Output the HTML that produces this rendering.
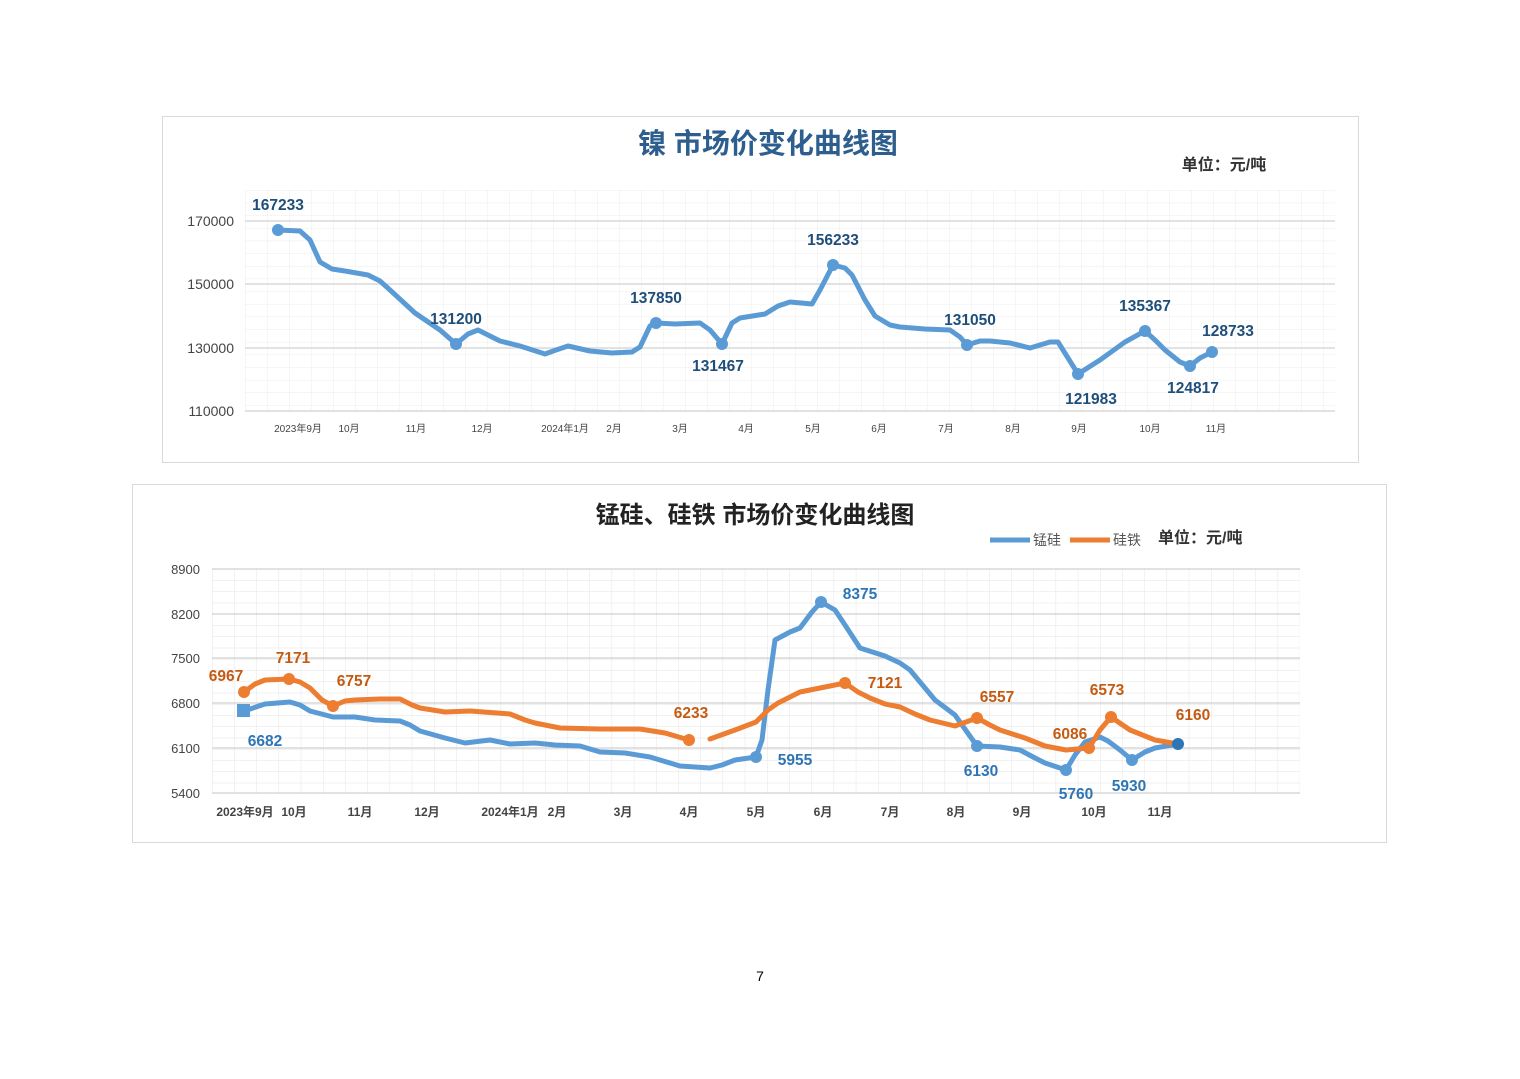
<!DOCTYPE html>
<html><head><meta charset="utf-8"><style>
body{margin:0;background:#fff;width:1520px;height:1074px;overflow:hidden}
text{font-family:"Liberation Sans","Noto Sans CJK SC",sans-serif}
.dl{font-family:"DejaVu Sans","Noto Sans CJK SC",sans-serif}
</style></head><body>
<svg width="1520" height="1074" xmlns="http://www.w3.org/2000/svg">
<defs>
<pattern id="g1" x="245" y="190" width="22" height="12.66" patternUnits="userSpaceOnUse">
<path d="M0 0V12.66M0 0H22" stroke="#ececec" stroke-width="1" fill="none"/></pattern>
<pattern id="g2" x="212" y="569" width="22.2" height="11.25" patternUnits="userSpaceOnUse">
<path d="M0 0V11.25M0 0H22.2" stroke="#e4e4e4" stroke-width="1" fill="none"/></pattern>
</defs>
<rect x="162.5" y="116.5" width="1196" height="346" fill="#fff" stroke="#d9d9d9"/>
<text x="768" y="153" font-size="28" font-weight="bold" fill="#2e5e8e" text-anchor="middle">镍  市场价变化曲线图</text>
<text x="1224" y="170" font-size="16" font-weight="bold" fill="#333" text-anchor="middle">单位：元/吨</text>
<rect x="245" y="190" width="1090" height="221" fill="url(#g1)"/>
<g stroke="#d9d9d9" stroke-width="1.5"><line x1="245" x2="1335" y1="221" y2="221"/><line x1="245" x2="1335" y1="284" y2="284"/><line x1="245" x2="1335" y1="348" y2="348"/><line x1="245" x2="1335" y1="411" y2="411"/></g>
<g font-size="14" fill="#444" text-anchor="end"><text x="234" y="226">170000</text><text x="234" y="289">150000</text><text x="234" y="353">130000</text><text x="234" y="416">110000</text></g>
<g font-size="10" fill="#444" text-anchor="middle"><text x="298" y="432">2023年9月</text><text x="349" y="432">10月</text><text x="416" y="432">11月</text><text x="482" y="432">12月</text><text x="565" y="432">2024年1月</text><text x="614" y="432">2月</text><text x="680" y="432">3月</text><text x="746" y="432">4月</text><text x="813" y="432">5月</text><text x="879" y="432">6月</text><text x="946" y="432">7月</text><text x="1013" y="432">8月</text><text x="1079" y="432">9月</text><text x="1150" y="432">10月</text><text x="1216" y="432">11月</text></g>
<polyline fill="none" stroke="#5b9bd5" stroke-width="5" stroke-linejoin="round" stroke-linecap="round" points="278,230 300,231 310,240 320,262 332,269 345,271 368,275 380,281 390,290 415,313 440,330 456,344 468,334 478,330 490,336 500,341 520,346 545,354 556,350 568,346 590,351 612,353 632,352 640,347 650,326 656,323 675,324 700,323 710,330 722,344 732,323 740,318 765,314 778,306 790,302 812,304 820,290 833,265 845,268 852,275 865,300 875,316 890,325 900,327 925,329 950,330 960,337 967,345 980,341 990,341 1010,343 1030,348 1050,342 1058,342 1068,358 1078,374 1100,360 1125,342 1145,331 1155,340 1165,350 1180,362 1190,366 1200,358 1212,352"/>
<g fill="#5b9bd5"><circle cx="278" cy="230" r="6"/><circle cx="456" cy="344" r="6"/><circle cx="656" cy="323" r="6"/><circle cx="722" cy="344" r="6"/><circle cx="833" cy="265" r="6"/><circle cx="967" cy="345" r="6"/><circle cx="1078" cy="374" r="6"/><circle cx="1145" cy="331" r="6"/><circle cx="1190" cy="366" r="6"/><circle cx="1212" cy="352" r="6"/></g>
<g class="dl" font-size="15.5" font-weight="bold" fill="#1f4e79" text-anchor="middle"><text x="278" y="210">167233</text><text x="456" y="324">131200</text><text x="656" y="303">137850</text><text x="718" y="371">131467</text><text x="833" y="245">156233</text><text x="970" y="325">131050</text><text x="1091" y="404">121983</text><text x="1145" y="311">135367</text><text x="1193" y="393">124817</text><text x="1228" y="336">128733</text></g>
<rect x="132.5" y="484.5" width="1254" height="358" fill="#fff" stroke="#d9d9d9"/>
<text x="755" y="523" font-size="24" font-weight="bold" fill="#222" text-anchor="middle">锰硅、硅铁  市场价变化曲线图</text>
<line x1="990" x2="1030" y1="540" y2="540" stroke="#5b9bd5" stroke-width="5"/><text x="1033" y="545" font-size="14" fill="#555">锰硅</text>
<line x1="1070" x2="1110" y1="540" y2="540" stroke="#ed7d31" stroke-width="5"/><text x="1113" y="545" font-size="14" fill="#555">硅铁</text>
<text x="1158" y="543" font-size="16" font-weight="bold" fill="#333">单位：元/吨</text>
<rect x="212" y="569" width="1088" height="225" fill="url(#g2)"/>
<g stroke="#d0d0d0" stroke-width="1.3"><line x1="212" x2="1300" y1="569" y2="569"/><line x1="212" x2="1300" y1="614" y2="614"/><line x1="212" x2="1300" y1="658" y2="658"/><line x1="212" x2="1300" y1="703" y2="703"/><line x1="212" x2="1300" y1="748" y2="748"/><line x1="212" x2="1300" y1="793" y2="793"/></g>
<g font-size="13" fill="#444" text-anchor="end"><text x="200" y="574">8900</text><text x="200" y="619">8200</text><text x="200" y="663">7500</text><text x="200" y="708">6800</text><text x="200" y="753">6100</text><text x="200" y="798">5400</text></g>
<g font-size="12" font-weight="bold" fill="#444" text-anchor="middle"><text x="245" y="816">2023年9月</text><text x="294" y="816">10月</text><text x="360" y="816">11月</text><text x="427" y="816">12月</text><text x="510" y="816">2024年1月</text><text x="557" y="816">2月</text><text x="623" y="816">3月</text><text x="689" y="816">4月</text><text x="756" y="816">5月</text><text x="823" y="816">6月</text><text x="890" y="816">7月</text><text x="956" y="816">8月</text><text x="1022" y="816">9月</text><text x="1094" y="816">10月</text><text x="1160" y="816">11月</text></g>
<polyline fill="none" stroke="#5b9bd5" stroke-width="5" stroke-linejoin="round" stroke-linecap="round" points="244,711 265,704 290,702 300,705 310,711 333,717 355,717 375,720 400,721 410,725 420,731 445,738 465,743 490,740 510,744 535,743 555,745 580,746 600,752 625,753 650,757 680,766 710,768 722,765 735,760 756,757 762,740 768,690 775,640 790,632 800,628 812,612 821,602 835,610 845,625 860,648 885,656 900,663 910,670 925,688 935,700 955,715 967,732 977,746 1000,747 1020,750 1035,758 1045,763 1066,770 1075,755 1085,742 1100,737 1108,741 1120,750 1132,760 1145,752 1155,748 1178,744"/>
<polyline fill="none" stroke="#ed7d31" stroke-width="5" stroke-linejoin="round" stroke-linecap="round" points="244,692 255,684 265,680 289,679 300,682 310,688 322,700 333,706 345,701 355,700 380,699 400,699 412,705 420,708 445,712 470,711 510,714 525,720 535,723 560,728 600,729 640,729 665,733 689,740"/>
<polyline fill="none" stroke="#ed7d31" stroke-width="5" stroke-linejoin="round" stroke-linecap="round" points="710,739 735,730 756,722 768,710 778,703 800,692 820,688 845,683 858,692 870,698 885,704 900,707 915,714 930,720 955,726 977,718 990,725 1000,730 1025,738 1045,746 1066,750 1089,748 1100,730 1111,717 1130,730 1145,736 1155,740 1178,744"/>
<rect x="237" y="704" width="13" height="13" fill="#5b9bd5"/>
<g fill="#5b9bd5"><circle cx="756" cy="757" r="6"/><circle cx="821" cy="602" r="6"/><circle cx="977" cy="746" r="6"/><circle cx="1066" cy="770" r="6"/><circle cx="1132" cy="760" r="6"/></g>
<circle cx="1178" cy="744" r="6" fill="#2e75b6"/>
<g fill="#ed7d31"><circle cx="244" cy="692" r="6"/><circle cx="289" cy="679" r="6"/><circle cx="333" cy="706" r="6"/><circle cx="689" cy="740" r="6"/><circle cx="845" cy="683" r="6"/><circle cx="977" cy="718" r="6"/><circle cx="1089" cy="748" r="6"/><circle cx="1111" cy="717" r="6"/></g>
<g class="dl" font-size="15.5" font-weight="bold" fill="#c55a11" text-anchor="middle"><text x="226" y="681">6967</text><text x="293" y="663">7171</text><text x="354" y="686">6757</text><text x="691" y="718">6233</text><text x="885" y="688">7121</text><text x="997" y="702">6557</text><text x="1070" y="739">6086</text><text x="1107" y="695">6573</text><text x="1193" y="720">6160</text></g>
<g class="dl" font-size="15.5" font-weight="bold" fill="#2e75b6" text-anchor="middle"><text x="265" y="746">6682</text><text x="795" y="765">5955</text><text x="860" y="599">8375</text><text x="981" y="776">6130</text><text x="1076" y="799">5760</text><text x="1129" y="791">5930</text></g>
<text x="760" y="981" font-size="14" fill="#000" text-anchor="middle">7</text>
</svg>
</body></html>
